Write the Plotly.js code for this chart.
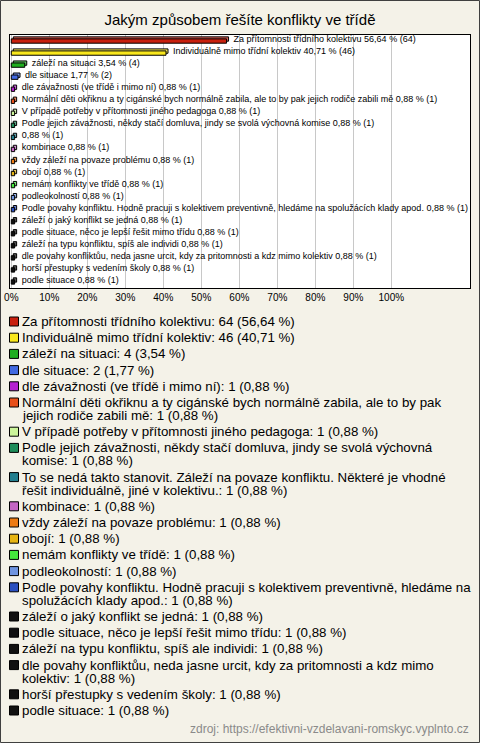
<!DOCTYPE html>
<html><head><meta charset="utf-8">
<script src="https://cdn.plot.ly/plotly-3.0.1.min.js"></script>
<style>html,body{margin:0;padding:0;background:#f4f2e8}#chart{width:480px;height:743px}</style>
</head><body><div id="chart"></div>
<script>
const chartTitle = 'Jakým způsobem řešíte konflikty ve třídě';
const answers = [
  'Za přítomnosti třídního kolektivu',
  'Individuálně mimo třídní kolektiv',
  'záleží na situaci',
  'dle situace',
  'dle závažnosti (ve třídě i mimo ní)',
  'Normální děti okřiknu a ty cigánské bych normálně zabila, ale to by pak jejich rodiče zabili mě',
  'V případě potřeby v přítomnosti jiného pedagoga',
  'Podle jejich závažnosti, někdy stačí domluva, jindy se svolá výchovná komise',
  'To se nedá takto stanovit. Záleží na povaze konfliktu. Některé je vhodné řešit individuálně, jiné v kolektivu.',
  'kombinace',
  'vždy záleží na povaze problému',
  'obojí',
  'nemám konflikty ve třídě',
  'podleokolností',
  'Podle povahy konfliktu. Hodně pracuji s kolektivem preventivně, hledáme na spolužácích klady apod.',
  'záleží o jaký konflikt se jedná',
  'podle situace, něco je lepší řešit mimo třídu',
  'záleží na typu konfliktu, spíš ale individi',
  'dle povahy konfliktůu, neda jasne urcit, kdy za pritomnosti a kdz mimo kolektiv',
  'horší přestupky s vedením školy',
  'podle situace'
];
const counts = [64, 46, 4, 2, 1, 1, 1, 1, 1, 1, 1, 1, 1, 1, 1, 1, 1, 1, 1, 1, 1];
const percents = [56.64, 40.71, 3.54, 1.77, 0.88, 0.88, 0.88, 0.88, 0.88, 0.88, 0.88, 0.88, 0.88, 0.88, 0.88, 0.88, 0.88, 0.88, 0.88, 0.88, 0.88];
const colors = ['#c8200e', '#f8e71c', '#1fae1f', '#4169e1', '#b41fd0', '#e8501a', '#ccf59a', '#1e8c5a', '#237f8f',
  '#c466c4', '#ec7a12', '#e6b412', '#44e83c', '#6f94e0', '#2a4fbf', '#111111', '#111111', '#111111', '#111111', '#111111', '#111111'];
const barNameHidden = [8];
const xTickValues = [0, 10, 20, 30, 40, 50, 60, 70, 80, 90, 100];
const xTickLabels = ['0%', '10%', '20%', '30%', '40%', '50%', '60%', '70%', '80%', '90%', '100%'];
const sourceText = 'zdroj: https://efektivni-vzdelavani-romskyc.vyplnto.cz';

const FONT = '"Liberation Sans", Arial, sans-serif';
const LEG_FS = 13.3;
const W = 480, H = 743;
const L = 10, R = 470, T = 35, B = 288;
const xRange = [-0.34, 120.7];
const n = answers.length;
const pxPerX = (R - L) / (xRange[1] - xRange[0]);
const rowPx = (B - T) / n;
const depthX = 2 / pxPerX, depthY = 2 / rowPx;
const barW = 0.36;

const fmt = v => v.toFixed(2).replace('.', ',');
const idx = answers.map((a, i) => i);
const barText = answers.map((a, i) => '\u00a0\u00a0' + (barNameHidden.includes(i) ? '' : a + ' ') + fmt(percents[i]) + ' % (' + counts[i] + ')');
function lighten(hex, f) {
  const c = [1, 3, 5].map(k => parseInt(hex.substr(k, 2), 16));
  return 'rgb(' + c.map(v => Math.round(v + (255 - v) * f)).join(',') + ')';
}
const backColors = colors.map(c => lighten(c, 0.3));

const backTrace = {
  type: 'bar', orientation: 'h', y: idx, x: percents, base: depthX,
  width: barW, offset: -barW / 2 - depthY,
  marker: {color: backColors, line: {color: '#000', width: 1}},
  text: barText, textposition: 'outside', cliponaxis: false, constraintext: 'none',
  textfont: {family: FONT, size: 9, color: '#000'}, hoverinfo: 'skip'
};
const frontTrace = {
  type: 'bar', orientation: 'h', y: idx, x: percents, width: barW,
  marker: {color: colors, line: {color: '#000', width: 1}}, hoverinfo: 'skip'
};

const toPX = px => (px - L) / (R - L);
const toPY = py => (B - py) / (B - T);

const canvas = document.createElement('canvas');
const ctx = canvas.getContext('2d');
ctx.font = LEG_FS + 'px "Liberation Sans"';
function wrap(text, maxW) {
  const words = text.split(' ');
  const lines = []; let cur = '';
  words.forEach(w => {
    const t = cur ? cur + ' ' + w : w;
    if (cur && ctx.measureText(t).width > maxW) { lines.push(cur); cur = w; } else cur = t;
  });
  if (cur) lines.push(cur);
  return lines;
}

const annotations = [];
const shapes = [];
let y = 321.5;
answers.forEach((a, i) => {
  const label = a + ': ' + counts[i] + ' (' + fmt(percents[i]) + ' %)';
  const lines = wrap(label, 451);
  shapes.push({type: 'rect', xref: 'paper', yref: 'paper', x0: toPX(9.5), x1: toPX(18.5), y0: toPY(y + 4.5), y1: toPY(y - 4.5),
    line: {color: '#000', width: 1}, fillcolor: colors[i]});
  lines.forEach((ln, k) => {
    annotations.push({xref: 'paper', yref: 'paper', x: toPX(21), y: toPY(y + k * 13), xanchor: 'left', yanchor: 'middle',
      text: ln, showarrow: false, borderpad: 0, font: {family: FONT, size: LEG_FS, color: '#000'}});
  });
  y += 16.2 + (lines.length - 1) * 13;
});
annotations.push({xref: 'paper', yref: 'paper', x: toPX(471), y: toPY(729), xanchor: 'right', yanchor: 'middle',
  text: sourceText, showarrow: false, font: {family: FONT, size: 12, color: '#8a8a8a'}});
shapes.push({type: 'rect', xref: 'paper', yref: 'paper', x0: toPX(0.5), x1: toPX(479.5), y0: toPY(742.5), y1: toPY(0.5),
  line: {color: '#404040', width: 1}, fillcolor: 'rgba(0,0,0,0)'});

const layout = {
  width: W, height: H,
  paper_bgcolor: '#f4f2e8', plot_bgcolor: '#ffffff',
  margin: {l: L, r: W - R, t: T, b: H - B, pad: 0},
  showlegend: false,
  font: {family: FONT, color: '#000'},
  title: {text: chartTitle, x: 0.5, xref: 'container', xanchor: 'center', y: 1 - 20 / H, yref: 'container', yanchor: 'middle',
    font: {family: FONT, size: 15, color: '#000'}},
  xaxis: {range: xRange, tickvals: xTickValues, ticktext: xTickLabels, showgrid: true, gridcolor: '#c8c8c8', gridwidth: 1,
    zeroline: false, showline: true, linecolor: '#000', linewidth: 1, mirror: true, ticks: '', tickfont: {size: 10, color: '#000'}},
  yaxis: {range: [n - 0.5, -0.5], showticklabels: false, showgrid: false, zeroline: false, showline: true, linecolor: '#000',
    linewidth: 1, mirror: true, ticks: ''},
  barmode: 'overlay', bargap: 0,
  annotations: annotations, shapes: shapes
};
Plotly.newPlot('chart', [backTrace, frontTrace], layout, {displayModeBar: false, staticPlot: true});
</script></body></html>
